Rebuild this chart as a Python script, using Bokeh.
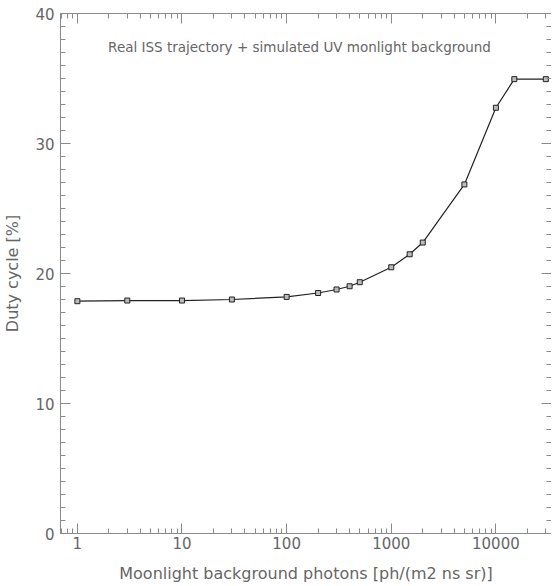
from bokeh.plotting import figure
from bokeh.models import Range1d, LogAxis, LinearAxis, LogTicker, SingleIntervalTicker, PrintfTickFormatter, CustomJSTickFormatter, Label
from bokeh.embed import file_html
from bokeh.resources import INLINE

# data
photons = [1, 3, 10, 30, 100, 200, 300, 400, 500, 1000, 1500, 2000, 5000, 10000, 15000, 30000]
duty = [17.87, 17.92, 17.92, 18.0, 18.2, 18.5, 18.77, 19.02, 19.33, 20.48, 21.48, 22.38, 26.85, 32.75, 34.95, 34.95]

title_text = "Real ISS trajectory + simulated UV monlight background"
x_label = "Moonlight background photons [ph/(m2 ns sr)]"
y_label = "Duty cycle [%]"

FONT = "DejaVu Sans"
TXT = "#666666"
AX = "#8a8a8a"

p = figure(x_axis_type="log", x_range=Range1d(0.69, 34000), y_range=Range1d(0, 40),
           frame_width=491, frame_height=520, output_backend="svg", toolbar_location=None,
           min_border_left=60, min_border_top=13, min_border_right=0, min_border_bottom=10)
p.outline_line_color = None
p.xgrid.visible = False
p.ygrid.visible = False
p.background_fill_color = "white"
p.border_fill_color = "white"

def style(ax, labels=True):
    ax.axis_line_color = AX
    ax.major_tick_line_color = AX
    ax.minor_tick_line_color = AX
    ax.major_tick_in = 10
    ax.major_tick_out = 0
    ax.minor_tick_in = 5
    ax.minor_tick_out = 0
    ax.major_label_text_font = FONT
    ax.major_label_text_color = TXT
    ax.major_label_text_font_size = "15px"
    ax.axis_label_text_font = FONT
    ax.axis_label_text_color = TXT
    ax.axis_label_text_font_size = "16px"
    ax.axis_label_text_font_style = "normal"
    if not labels:
        ax.major_label_text_font_size = "0px"
        ax.major_label_standoff = 0
        ax.formatter = CustomJSTickFormatter(code="return ''")

xa = p.xaxis[0]
style(xa)
xa.ticker = LogTicker(num_minor_ticks=10)
xa.formatter = PrintfTickFormatter(format="%d")
xa.major_label_standoff = 3
xa.axis_label = x_label
xa.axis_label_standoff = 12

ya = p.yaxis[0]
style(ya)
ya.ticker = SingleIntervalTicker(interval=10, num_minor_ticks=10)
ya.major_label_standoff = 6
ya.axis_label = y_label
ya.axis_label_standoff = 10

top = LogAxis(ticker=LogTicker(num_minor_ticks=10))
style(top, labels=False)
p.add_layout(top, "above")

right = LinearAxis(ticker=SingleIntervalTicker(interval=10, num_minor_ticks=10))
style(right, labels=False)
p.add_layout(right, "right")

p.line(photons, duty, line_color="#222222", line_width=1.2)
p.scatter(photons, duty, marker="square", size=5, fill_color="#bbbbbb", line_color="#222222", line_width=1)

p.add_layout(Label(x=239, y=487, x_units="screen", y_units="screen", text=title_text,
                   text_font=FONT, text_font_size="13.5px", text_color=TXT,
                   text_align="center", text_baseline="middle"))

open("out.html", "w").write(file_html(p, INLINE))
